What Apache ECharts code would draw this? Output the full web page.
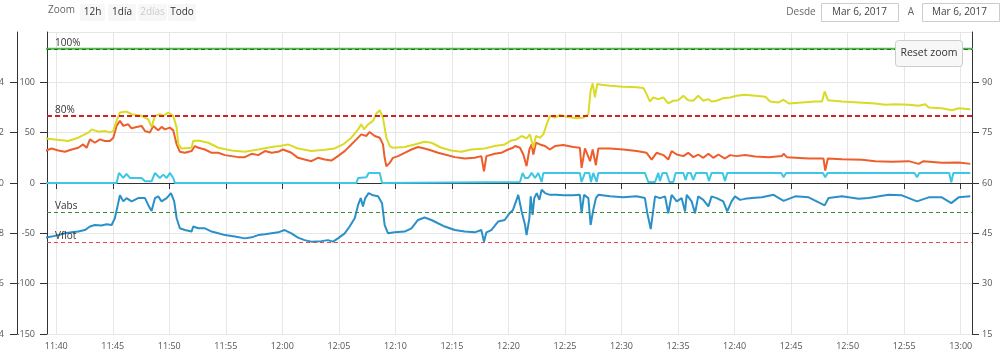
<!DOCTYPE html>
<html>
<head>
<meta charset="utf-8">
<script src="https://cdn.jsdelivr.net/npm/echarts@6/dist/echarts.min.js"></script>
<style>
html,body{margin:0;padding:0;background:#fff;}
#chart{width:1000px;height:359px;}
</style>
</head>
<body>
<div id="chart"></div>
<script>
// ---------- DATA ----------
const DAY = [2017, 2, 6];
const xMinTime = "11:39:11";
const xMaxTime = "13:01:00";

// yellow series (left inner axis)
const yellowT = ["11:39:00","11:39:53","11:41:04","11:41:57","11:42:50","11:43:08","11:43:43","11:44:18","11:44:45","11:45:03","11:45:20","11:45:38","11:46:13","11:46:40","11:47:33","11:48:08","11:48:26","11:48:44","11:49:10","11:49:28","11:49:55","11:50:21","11:50:39","11:50:48","11:51:05","11:51:58","11:52:07","11:52:34","11:53:27","11:54:20","11:55:31","11:56:41","11:57:52","11:59:03","11:59:47",
"12:00:30","12:01:23","12:02:34","12:03:45","12:04:38","12:05:22","12:06:06","12:06:42","12:06:59","12:07:13","12:07:35","12:08:01","12:08:19","12:08:37","12:08:54","12:09:12","12:09:30","12:09:47","12:10:49","12:11:42","12:12:35","12:13:11","12:14:04","12:14:57","12:15:50","12:16:43","12:17:54","12:18:47","12:19:40","12:20:15",
"12:20:43","12:21:10","12:21:36","12:21:54","12:22:12","12:22:26","12:22:47","12:23:05","12:23:23","12:23:40","12:24:07","12:24:33","12:25:09","12:26:02","12:26:37","12:27:04","12:27:16","12:27:27","12:27:39","12:27:51","12:28:14","12:28:59","12:30:09","12:31:20","12:31:56","12:32:13","12:32:31","12:32:49","12:33:15","12:33:42","12:34:08","12:34:35","12:35:01","12:35:28","12:35:54","12:36:21","12:36:47","12:37:14","12:37:41","12:37:58","12:38:25","12:39:00","12:39:36","12:40:11","12:40:55",
"12:41:50","12:42:43","12:43:09","12:43:54","12:44:20","12:44:47","12:45:57","12:47:08","12:47:44","12:47:58","12:48:15","12:49:30","12:50:58","12:52:27","12:53:20","12:54:13","12:55:24","12:56:17","12:56:52","12:57:10","12:58:20","12:59:13","12:59:49","13:00:51"];
const yellowV = [44.3,43.3,41.7,45,50,53.3,51,51.7,50,51.7,61.7,70,71,68.3,66.7,63.3,55.7,66.7,68.3,66.7,70,66.7,55,38.3,34.3,35,41.7,42.3,40,35,32.3,31,33.3,35.7,36.7,
38.3,34.3,31.7,33,34.3,38.3,45,53.3,58.3,53.3,58.3,61.7,69,72.3,65,45,36.7,35,35.7,38.3,41,40,35,32.3,31,33.3,34.3,36.7,38.3,42.3,
43.3,46.7,44.3,48.3,35,46.7,45,48.3,58.3,66.7,65,67.7,65.7,64.3,65,68.3,91.7,99,85,98.3,97.7,96.7,95.7,95,94.3,88.3,81,85,83.3,85,79,81.7,82.3,86.7,82.3,81.7,86.7,81.7,83.3,81,81.7,84.3,85,86.7,87.7,
86.7,85.7,81,80,82.7,79,80,81,81,91,82.3,81,80,79,77.7,78.3,77.7,76.7,78.3,75,74.3,72.3,74.3,73.3];

// orange series (left inner axis)
const orangeT = ["11:39:00","11:39:35","11:40:11","11:40:46","11:41:22","11:41:57","11:42:23","11:42:41","11:42:59","11:43:25","11:43:52","11:44:18","11:44:45","11:45:03","11:45:20","11:45:38","11:45:56","11:46:22","11:46:40","11:47:06","11:47:33","11:47:51","11:48:17","11:48:35","11:49:01","11:49:19","11:49:37","11:50:03","11:50:21","11:50:39","11:50:56","11:51:23","11:51:58","11:52:16","11:52:34","11:53:09","11:53:45","11:54:20","11:54:55","11:55:31","11:56:06","11:56:41","11:57:17","11:57:52","11:58:28","11:59:03","11:59:38",
"12:00:03","12:00:48","12:01:23","12:01:58","12:02:34","12:03:09","12:03:45","12:04:20","12:04:55","12:05:31","12:06:06","12:06:33","12:06:59","12:07:26","12:07:43","12:08:10","12:08:37","12:08:54","12:09:03","12:09:12","12:09:30","12:09:47","12:10:14","12:10:49","12:11:25","12:12:00","12:12:35","12:13:11","12:13:46","12:14:22","12:15:15","12:16:08","12:17:01","12:17:36","12:17:50","12:18:03","12:18:47","12:19:22","12:19:58","12:20:24",
"12:20:35","12:21:01","12:21:19","12:21:36","12:21:51","12:22:03","12:22:12","12:22:26","12:22:47","12:23:14","12:23:40","12:24:07","12:24:51","12:25:44","12:26:19","12:26:28","12:26:46","12:27:13","12:27:27","12:27:44","12:27:57","12:28:59","12:30:09","12:31:20","12:32:13","12:32:40","12:33:06","12:33:42","12:34:08","12:34:26","12:34:53","12:35:28","12:35:54","12:36:21","12:36:47","12:37:14","12:37:41","12:38:07","12:38:34","12:39:09","12:39:36","12:40:11","12:40:55",
"12:41:50","12:43:01","12:44:11","12:44:20","12:44:38","12:46:33","12:47:52","12:48:01","12:48:15","12:49:30","12:51:16","12:52:27","12:53:55","12:55:24","12:56:17","12:56:43","12:58:20","12:59:49","13:00:51"];
const orangeV = [31.7,34.3,32.3,31,33.3,35,38.3,35,43.3,40,43.3,41.7,41.7,45,56.7,61.7,56.7,58.3,54.3,55.7,56.7,51.7,50,56.7,52.3,55.7,53.3,55,52.3,38.3,31,30,31.7,36.7,35,33.3,30,30,27.7,26.7,25.7,25.7,29,27.7,31.7,30,31,
33.3,30,25,23.3,21.7,25,23.3,22.3,26.7,31.7,38.3,43.3,48.3,46.7,50.7,46.7,45,38.3,25,16.7,20,25,26.7,30,33.3,35.7,34.3,32.3,30,28.3,25.7,24.3,25,26.7,11.7,26.7,29,30,33.3,35,
36.7,35,28.3,16.7,33.3,38.3,28.3,40,38.3,36.7,33.3,36.7,37.7,35.7,35,15,34.3,21.7,33.3,17.7,34.3,34.3,33.3,31.7,30,23.3,30,27.7,23.3,31.7,28.3,26.7,30,25.7,28.3,25,29,25,28.3,24.3,27.7,26.7,27.7,
26.3,25.7,26.7,29,25.7,24.3,24.3,12.3,24.3,23.7,23,21.7,21,21.7,19,21.7,20,20.3,19];

// cyan series (left inner axis)
const cyanT = ["11:39:00","11:45:20","11:45:33","11:45:56","11:46:13","11:46:31","11:47:06","11:47:33","11:47:51","11:48:26","11:48:44","11:49:10","11:49:28","11:49:46","11:50:03","11:50:21","11:50:30",
"12:06:33","12:06:42","12:07:26","12:07:38","12:08:37","12:08:49",
"12:21:01","12:21:15","12:21:28","12:21:45","12:22:03","12:22:21","12:22:38","12:22:56","12:23:05","12:26:19","12:26:28","12:26:46","12:27:09","12:27:18","12:27:30","12:27:39","12:27:48","12:27:57","12:32:04","12:32:22","12:32:58","12:33:15","12:33:24","12:33:38","12:33:59","12:34:14","12:34:35","12:34:47","12:35:28","12:35:40","12:35:51","12:36:07","12:36:21","12:36:35","12:37:32","12:37:44","12:37:58","12:38:57","12:39:09","12:39:21",
"12:44:08","12:44:20","12:44:33","12:47:49","12:48:01","12:48:14","12:55:55","12:56:08","12:56:20","12:58:59","12:59:10","12:59:21","13:00:51"];
const cyanV = [0,0,10,5,9,5,5,5,1.7,1.7,10,5,8.3,5,10,5,0,
0,5,5.7,10,10,0,
1,10,5,5,10,5,10,1,10,10,1,10,10,1,10,10,1,10,10,1,1,10,2,10,10,1,1,10,10,3,10,10,3,10,10,2,10,10,2,10,
10,5.7,10,10,5.7,10,10,5.7,10,10,0.7,10,10];

// blue series (outer left axis)
const blueT = ["11:39:00","11:39:35","11:40:11","11:40:46","11:41:22","11:41:57","11:42:32","11:42:59","11:43:25","11:44:01","11:44:27","11:44:54","11:45:11","11:45:29","11:45:38","11:45:56","11:46:13","11:46:40","11:47:15","11:47:51","11:48:08","11:48:26","11:48:44","11:49:01","11:49:19","11:49:46","11:50:09","11:50:26","11:50:39","11:50:56","11:51:23","11:51:58","11:52:07","11:52:34","11:53:09","11:53:45","11:54:20","11:54:55","11:55:48","11:56:41","11:57:17","11:57:52","11:58:28","11:59:03","11:59:38",
"12:00:12","12:00:48","12:01:23","12:01:58","12:02:34","12:03:27","12:04:02","12:04:29","12:04:55","12:05:31","12:05:57","12:06:24","12:06:42","12:06:56","12:07:08","12:07:20","12:07:38","12:08:01","12:08:28","12:08:49","12:09:03","12:09:21","12:09:56","12:10:49","12:11:25","12:12:00","12:12:35","12:13:11","12:13:46","12:14:22","12:15:15","12:16:08","12:17:01","12:17:36","12:17:50","12:18:03","12:18:29","12:19:05","12:19:40","12:20:06","12:20:24",
"12:20:40","12:20:52","12:21:10","12:21:28","12:21:36","12:21:51","12:21:58","12:22:08","12:22:17","12:22:30","12:22:44","12:22:56","12:23:14","12:23:40","12:24:16","12:24:51","12:25:44","12:26:19","12:26:28","12:26:41","12:27:04","12:27:16","12:27:30","12:27:44","12:27:57","12:28:59","12:30:09","12:31:20","12:32:04","12:32:17","12:32:35","12:32:58","12:33:24","12:33:51","12:34:08","12:34:26","12:34:53","12:35:19","12:35:37","12:35:46","12:36:12","12:36:30","12:36:47","12:37:14","12:37:41","12:37:58","12:38:25","12:39:00","12:39:21","12:39:44","12:40:02","12:40:29","12:40:55",
"12:41:32","12:42:25","12:43:27","12:44:20","12:45:22","12:46:33","12:47:58","12:48:19","12:49:30","12:50:58","12:51:51","12:53:37","12:54:48","12:56:08","12:57:10","12:58:20","12:59:10","12:59:49","13:00:51"];
const blueV = [47.83,47.87,47.93,48.0,48.04,48.07,48.13,48.27,48.33,48.31,48.36,48.33,48.6,49.2,49.51,49.27,49.4,49.27,49.4,49.4,49.13,48.89,49.4,49.47,49.27,49.4,49.6,49.27,48.6,48.2,48.13,48.07,48.27,48.2,48.2,48.07,48.0,47.93,47.87,47.8,47.84,47.93,47.96,48.0,48.04,
48.13,48.0,47.83,47.73,47.67,47.69,47.73,47.67,47.8,48.0,48.27,48.6,49.13,49.4,49.07,49.4,49.6,49.51,49.47,49.2,48.33,48.0,48.04,48.07,48.2,48.53,48.63,48.53,48.4,48.27,48.13,48.07,48.04,48.13,47.67,48.04,48.13,48.47,48.53,48.8,48.93,
49.27,49.53,48.87,48.33,47.93,48.6,49.47,48.73,49.4,49.6,49.33,49.73,49.6,49.53,49.53,49.51,49.51,49.53,48.8,49.53,49.4,48.33,48.93,49.4,49.53,49.47,49.43,49.47,49.4,48.8,48.17,49.47,49.4,49.47,48.8,49.53,49.27,49.4,48.87,49.53,49.27,48.8,49.47,49.33,49.07,49.47,49.4,49.27,48.87,49.27,49.47,49.33,49.37,
49.4,49.43,49.53,49.29,49.47,49.43,49.11,49.4,49.47,49.37,49.4,49.53,49.51,49.27,49.43,49.43,49.2,49.43,49.47];

// reference lines
const socFull = 100, socLow = 80;       // right axis (%)
const vAbs = 48.84, vFlot = 47.64;      // outer left axis (V)
const rangeButtons = ["12h", "1día", "2días", "Todo"];
const dateFrom = "Mar 6, 2017", dateTo = "Mar 6, 2017";

// ---------- helpers ----------
function toMs(s) {
  const p = s.split(":").map(Number);
  return new Date(DAY[0], DAY[1], DAY[2], p[0], p[1], p[2]).getTime();
}
function pairs(ts, vs) { return ts.map((t, i) => [toMs(t), vs[i]]); }

const FONT = "Open Sans";
const labelColor = "#555";
const axisColor = "#333";

const chart = echarts.init(document.getElementById("chart"), null, {renderer: "canvas"});

const btnX = [80, 108, 138, 168];
const btnW = [25, 28, 29, 28];
const graphics = [
  {type: "text", left: 48, top: 5, z: 100, style: {text: "Zoom", fill: "#666", font: "10px " + FONT}}
];
rangeButtons.forEach((b, i) => {
  graphics.push({type: "rect", shape: {x: btnX[i], y: 4, width: btnW[i], height: 17, r: 2}, z: 100,
    style: {fill: "#f7f7f7"}});
  graphics.push({type: "text", x: btnX[i] + btnW[i] / 2, y: 12.5, z: 101,
    style: {text: b, fill: i === 2 ? "#cccccc" : "#333", font: "10px " + FONT, align: "center", verticalAlign: "middle"}});
});
graphics.push(
  {type: "text", x: 801, y: 12.5, z: 100, style: {text: "Desde", fill: "#666", font: "10px " + FONT, align: "center", verticalAlign: "middle"}},
  {type: "rect", shape: {x: 821.5, y: 3.5, width: 77, height: 18}, z: 100, style: {fill: "#fff", stroke: "#cccccc", lineWidth: 1}},
  {type: "text", x: 859.5, y: 12.5, z: 101, style: {text: dateFrom, fill: "#444", font: "10px " + FONT, align: "center", verticalAlign: "middle"}},
  {type: "text", x: 911, y: 12.5, z: 100, style: {text: "A", fill: "#666", font: "10px " + FONT, align: "center", verticalAlign: "middle"}},
  {type: "rect", shape: {x: 922.5, y: 3.5, width: 77, height: 18}, z: 100, style: {fill: "#fff", stroke: "#cccccc", lineWidth: 1}},
  {type: "text", x: 959.5, y: 12.5, z: 101, style: {text: dateTo, fill: "#444", font: "10px " + FONT, align: "center", verticalAlign: "middle"}},
  {type: "rect", shape: {x: 895.5, y: 40.5, width: 67, height: 26, r: 3}, z: 100, style: {fill: "#f7f7f7", stroke: "#cccccc", lineWidth: 1}},
  {type: "text", x: 929, y: 53.5, z: 101, style: {text: "Reset zoom", fill: "#333", font: "10.5px " + FONT, align: "center", verticalAlign: "middle"}}
);

const lineBase = {type: "line", showSymbol: false, symbol: "none", animation: false, lineStyle: {width: 2}};

const option = {
  backgroundColor: "#fff",
  animation: false,
  textStyle: {fontFamily: FONT},
  grid: {left: 47, right: 28, top: 32, height: 302, containLabel: false, outerBoundsMode: "none"},
  graphic: graphics,
  xAxis: {
    type: "time",
    min: toMs(xMinTime), max: toMs(xMaxTime),
    splitNumber: 16,
    axisLine: {lineStyle: {color: axisColor, width: 1}},
    axisTick: {show: true, length: 6, lineStyle: {color: axisColor}},
    axisLabel: {formatter: "{HH}:{mm}", color: labelColor, fontSize: 9, margin: 8, fontFamily: FONT},
    splitLine: {show: true, lineStyle: {color: "#e6e6e6"}}
  },
  yAxis: [
    {
      type: "value", position: "left", offset: 0, min: -150, max: 150, interval: 50,
      axisLine: {show: true, lineStyle: {color: axisColor}},
      axisTick: {show: true, length: 7, lineStyle: {color: axisColor}},
      axisLabel: {color: labelColor, fontSize: 9, margin: 12, showMaxLabel: false, fontFamily: FONT},
      splitLine: {show: true, lineStyle: {color: "#e6e6e6"}}
    },
    {
      type: "value", position: "left", offset: 30, min: 44, max: 56, interval: 2,
      axisLine: {show: true, lineStyle: {color: axisColor}},
      axisTick: {show: true, length: 7, lineStyle: {color: axisColor}},
      axisLabel: {color: labelColor, fontSize: 9, margin: 13, showMaxLabel: false, fontFamily: FONT},
      splitLine: {show: false}
    },
    {
      type: "value", position: "right", offset: 0, min: 15, max: 105, interval: 15,
      axisLine: {show: true, lineStyle: {color: axisColor}},
      axisTick: {show: true, length: 7, lineStyle: {color: axisColor}},
      axisLabel: {color: labelColor, fontSize: 9, margin: 10, showMaxLabel: false, fontFamily: FONT},
      splitLine: {show: false}
    }
  ],
  series: [
    Object.assign({}, lineBase, {
      name: "soc100", yAxisIndex: 2, z: 3,
      data: [[toMs("11:39:00"), socFull], [toMs("13:01:30"), socFull]],
      lineStyle: {width: 2, color: "#4cb848"}, itemStyle: {color: "#4cb848"},
      markLine: {
        symbol: "none", silent: true, animation: false,
        data: [
          {yAxis: socFull, lineStyle: {color: "#2a6e2a", type: [4, 3], width: 1},
           label: {formatter: "100%"}},
          {yAxis: socLow, lineStyle: {color: "#d42020", type: [5, 3], width: 2},
           label: {formatter: "80%"}}
        ],
        label: {position: "insideStartTop", color: "#333", fontSize: 10, distance: [8, 1], fontFamily: FONT}
      }
    }),
    Object.assign({}, lineBase, {
      name: "orange", yAxisIndex: 0, data: pairs(orangeT, orangeV),
      lineStyle: {width: 2, color: "#ee5e2c"}, itemStyle: {color: "#ee5e2c"}
    }),
    Object.assign({}, lineBase, {
      name: "yellow", yAxisIndex: 0, data: pairs(yellowT, yellowV),
      lineStyle: {width: 2, color: "#d9db26"}, itemStyle: {color: "#d9db26"}
    }),
    Object.assign({}, lineBase, {
      name: "cyan", yAxisIndex: 0, data: pairs(cyanT, cyanV),
      lineStyle: {width: 2, color: "#3ec6e6"}, itemStyle: {color: "#3ec6e6"}
    }),
    Object.assign({}, lineBase, {
      name: "blue", yAxisIndex: 1, data: pairs(blueT, blueV),
      lineStyle: {width: 2, color: "#2a90c8"}, itemStyle: {color: "#2a90c8"},
      markLine: {
        symbol: "none", silent: true, animation: false,
        data: [
          {yAxis: vAbs, lineStyle: {color: "#3a8a3a", type: [4, 3], width: 1}, label: {formatter: "Vabs"}},
          {yAxis: vFlot, lineStyle: {color: "#e84848", type: [4, 3], width: 1}, label: {formatter: "Vflot"}}
        ],
        label: {position: "insideStartTop", color: "#333", fontSize: 10, distance: [8, 1], fontFamily: FONT}
      }
    })
  ]
};
chart.setOption(option);
</script>
</body>
</html>
